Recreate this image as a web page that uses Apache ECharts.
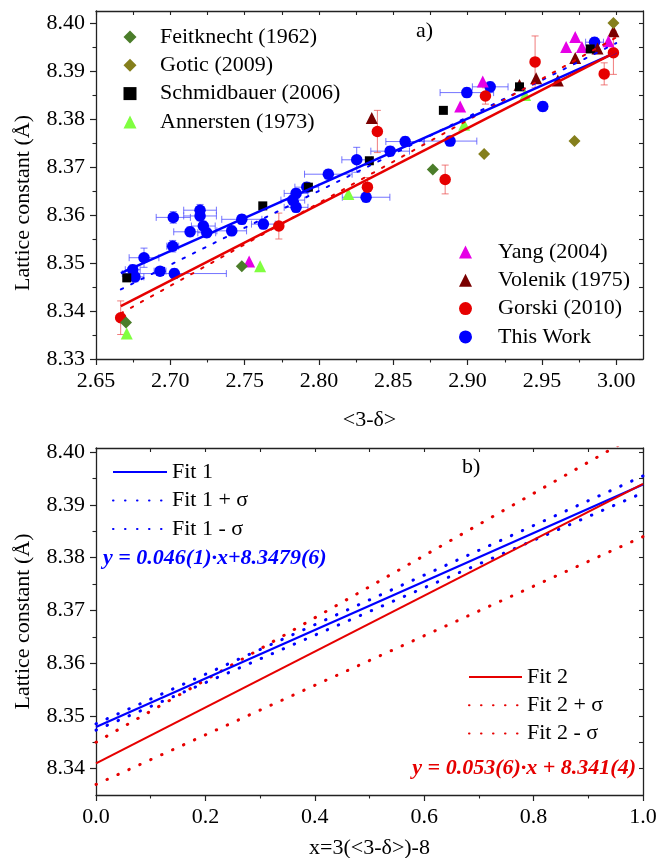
<!DOCTYPE html>
<html><head><meta charset="utf-8">
<script src="https://cdn.jsdelivr.net/npm/echarts@6/dist/echarts.min.js"></script>
<style>html,body{margin:0;padding:0;background:#fff;}#c{width:658px;height:858px;}</style>
</head><body><div id="c"></div>
<script>
const FONT = '"Liberation Serif","Times New Roman",serif';

// ---- tick labels ----
const topXTicks = [2.65, 2.70, 2.75, 2.80, 2.85, 2.90, 2.95, 3.00];
const topXMinor = [2.675, 2.725, 2.775, 2.825, 2.875, 2.925, 2.975];
const topYTicks = [8.33, 8.34, 8.35, 8.36, 8.37, 8.38, 8.39, 8.40];
const topYMinor = [8.335, 8.345, 8.355, 8.365, 8.375, 8.385, 8.395];
const botXTicks = [0.0, 0.2, 0.4, 0.6, 0.8, 1.0];
const botXMinor = [0.1, 0.3, 0.5, 0.7, 0.9];
const botYTicks = [8.34, 8.35, 8.36, 8.37, 8.38, 8.39, 8.40];
const botYMinor = [8.345, 8.355, 8.365, 8.375, 8.385, 8.395];

// ---- panel a) data: [<3-δ>, a] ----
const feitknecht = [[2.6702, 8.3376], [2.7481, 8.3493], [2.8766, 8.3695]];
const gotic = [[2.9111, 8.3727], [2.9719, 8.3754], [2.9981, 8.4000]];
const schmidbauer = [[2.6707, 8.3469], [2.7622, 8.3619], [2.7929, 8.3658], [2.8339, 8.3713],
  [2.8837, 8.3818], [2.9349, 8.3867], [2.9825, 8.3946]];
const annersten = [[2.6707, 8.3353], [2.7604, 8.3493], [2.8198, 8.3644], [2.8977, 8.3788], [2.9387, 8.3850]];
const yang = [[2.7530, 8.3503], [2.8950, 8.3826], [2.9102, 8.3878], [2.9663, 8.3950],
  [2.9724, 8.3971], [2.9769, 8.3950], [2.9948, 8.3962]];
const volenik = [[2.8355, 8.3802], [2.9349, 8.3871], [2.9461, 8.3885], [2.9607, 8.3880],
  [2.9724, 8.3927], [2.9874, 8.3947], [2.9981, 8.3983]];
// [x, y, xerr, yerr]
const gorski = [[2.6666, 8.3386, 0, 0.0035], [2.7730, 8.3577, 0, 0.0027], [2.8393, 8.3774, 0, 0.0044],
  [2.8326, 8.3658, 0, 0.0020], [2.8849, 8.3674, 0, 0.0030], [2.9120, 8.3848, 0, 0.0017],
  [2.9454, 8.3919, 0, 0.0054], [2.9919, 8.3894, 0, 0.0023], [2.9981, 8.3938, 0, 0.0045]];
const thisWork = [
  [2.7020, 8.3595, 0.0115, 0.0012], [2.7200, 8.3610, 0.011, 0.0012], [2.7200, 8.3598, 0.011, 0.0010],
  [2.7222, 8.3577, 0.008, 0.0010], [2.7245, 8.3563, 0.006, 0.0010], [2.7133, 8.3565, 0.011, 0.0010],
  [2.7016, 8.3535, 0.004, 0.0012], [2.6823, 8.3511, 0.010, 0.0020], [2.6747, 8.3486, 0.005, 0.0010],
  [2.6762, 8.3471, 0.006, 0.0010], [2.6931, 8.3483, 0.004, 0.0008], [2.7027, 8.3478, 0.035, 0.0010],
  [2.7413, 8.3567, 0.010, 0.0010], [2.7481, 8.3591, 0.0135, 0.0010], [2.7626, 8.3581, 0.008, 0.0010],
  [2.7824, 8.3631, 0.008, 0.0010], [2.7846, 8.3645, 0.008, 0.0010], [2.7846, 8.3616, 0.008, 0.0010],
  [2.7918, 8.3658, 0.008, 0.0010], [2.8063, 8.3685, 0.016, 0.0010], [2.8254, 8.3715, 0.010, 0.0026],
  [2.8479, 8.3733, 0.013, 0.0010], [2.8580, 8.3753, 0.013, 0.0010], [2.8317, 8.3637, 0.016, 0.0010],
  [2.8882, 8.3754, 0.018, 0.0010], [2.8995, 8.3855, 0.018, 0.0010], [2.9152, 8.3867, 0.012, 0.0010],
  [2.9506, 8.3826, 0.003, 0.0010], [2.9854, 8.3960, 0.006, 0.0010]];
// fit lines in panel a)
const fit1Top = [[2.6667, 8.3479], [3.0, 8.3939]];
const fit2Top = [[2.6667, 8.3410], [3.0, 8.3940]];
const fit1DotTop = [[2.6667, 8.3445], [3.0, 8.3958]];
const fit2DotTop = [[2.6667, 8.3395], [3.0, 8.3970]];

// ---- panel b) data: [x, a] ----
const fit1 = [[0, 8.3479], [1, 8.3939]];
const fit1Plus = [[0, 8.3485], [1, 8.3955]];
const fit1Minus = [[0, 8.3473], [1, 8.3923]];
const fit2 = [[0, 8.341], [1, 8.394]];
const fit2Plus = [[0, 8.345], [1, 8.404]];
const fit2Minus = [[0, 8.337], [1, 8.384]];

const BLUE = '#0000ff', RED = '#e60000';
const AX = '#222';
const lbl = {fontFamily: FONT, fontSize: 22, color: '#000'};

function errRender(color) {
  return function (params, api) {
    const x = api.value(0), y = api.value(1), ex = api.value(2), ey = api.value(3);
    const st = {stroke: color, lineWidth: 1};
    const ch = [], c = 3.5;
    if (ex > 0) {
      const a = api.coord([x - ex, y]), b = api.coord([x + ex, y]);
      ch.push({type: 'line', shape: {x1: a[0], y1: a[1], x2: b[0], y2: b[1]}, style: st});
      ch.push({type: 'line', shape: {x1: a[0], y1: a[1] - c, x2: a[0], y2: a[1] + c}, style: st});
      ch.push({type: 'line', shape: {x1: b[0], y1: b[1] - c, x2: b[0], y2: b[1] + c}, style: st});
    }
    if (ey > 0) {
      const a = api.coord([x, y - ey]), b = api.coord([x, y + ey]);
      ch.push({type: 'line', shape: {x1: a[0], y1: a[1], x2: b[0], y2: b[1]}, style: st});
      ch.push({type: 'line', shape: {x1: a[0] - c, y1: a[1], x2: a[0] + c, y2: a[1]}, style: st});
      ch.push({type: 'line', shape: {x1: b[0] - c, y1: b[1], x2: b[0] + c, y2: b[1]}, style: st});
    }
    return {type: 'group', children: ch};
  };
}

function mainAxis(grid, pos, min, max, ticks, fmt, name, nameGap, extra) {
  return Object.assign({
    type: 'value', gridIndex: grid, position: pos, min: min, max: max,
    axisLine: {show: true, onZero: false, lineStyle: {color: AX, width: 1.3}},
    axisTick: {show: true, inside: false, length: 6, customValues: ticks, lineStyle: {color: AX, width: 1.2}},
    axisLabel: {show: true, customValues: ticks, formatter: v => v.toFixed(fmt), margin: 11,
      fontFamily: FONT, fontSize: 22, color: '#000'},
    splitLine: {show: false},
    name: name, nameLocation: 'middle', nameGap: nameGap,
    nameTextStyle: {fontFamily: FONT, fontSize: 22, color: '#000'}
  }, extra || {});
}
function minorAxis(grid, pos, min, max, ticks) {
  return {
    type: 'value', gridIndex: grid, position: pos, min: min, max: max,
    axisLine: {show: false, onZero: false},
    axisTick: {show: true, inside: false, length: 3.5, customValues: ticks, lineStyle: {color: AX, width: 1.1}},
    axisLabel: {show: false}, splitLine: {show: false}
  };
}
function mirrorAxis(grid, pos, min, max, ticks) {
  return {
    type: 'value', gridIndex: grid, position: pos, min: min, max: max,
    axisLine: {show: true, onZero: false, lineStyle: {color: AX, width: 1.3}},
    axisTick: {show: true, inside: true, length: 4, customValues: ticks, lineStyle: {color: AX, width: 1.1}},
    axisLabel: {show: false}, splitLine: {show: false}
  };
}

const TXMIN = 2.65, TXMAX = 3.018, TYMIN = 8.33, TYMAX = 8.4025;
const BXMIN = 0, BXMAX = 1, BYMIN = 8.335, BYMAX = 8.4008;

function scat(name, data, symbol, size, color, z) {
  return {type: 'scatter', name: name, data: data, symbol: symbol, symbolSize: size,
    xAxisIndex: 0, yAxisIndex: 0, itemStyle: {color: color, opacity: 1}, z: z, silent: true};
}
function line(name, data, color, width, dash, xi, z) {
  return {type: 'line', name: name, data: data, xAxisIndex: xi, yAxisIndex: xi, symbol: 'none',
    showSymbol: false, silent: true, z: z, clip: true,
    itemStyle: {color: color},
    lineStyle: {color: color, width: width, type: dash || 'solid', cap: dash ? 'round' : 'butt'}};
}
const dotB = [0.5, 11.5];
const dotT = [2.5, 9];

const scatLegendText = pad => ({fontFamily: FONT, fontSize: 22, color: '#000', padding: [0, 0, 0, pad]});
const hiddenSym = {color: 'rgba(0,0,0,0)', borderWidth: 0, borderColor: 'rgba(0,0,0,0)', opacity: 0};
const option = {
  animation: false,
  backgroundColor: '#fff',
  grid: [
    {left: 96, top: 11, width: 547, height: 348, containLabel: false, outerBoundsMode: 'none'},
    {left: 96, top: 448, width: 547, height: 347, containLabel: false, outerBoundsMode: 'none'}
  ],
  xAxis: [
    mainAxis(0, 'bottom', TXMIN, TXMAX, topXTicks, 2, '<3-δ>', 50),
    minorAxis(0, 'bottom', TXMIN, TXMAX, topXMinor),
    mirrorAxis(0, 'top', TXMIN, TXMAX, topXTicks.concat(topXMinor)),
    mainAxis(1, 'bottom', BXMIN, BXMAX, botXTicks, 1, 'x=3(<3-δ>)-8', 42, {}),
    minorAxis(1, 'bottom', BXMIN, BXMAX, botXMinor),
    mirrorAxis(1, 'top', BXMIN, BXMAX, botXTicks.concat(botXMinor))
  ],
  yAxis: [
    mainAxis(0, 'left', TYMIN, TYMAX, topYTicks, 2, 'Lattice constant (Å)', 62,
      {nameRotate: 90, nameTextStyle: {fontFamily: FONT, fontSize: 22, color: '#000', padding: [0, 36, 0, 0]}}),
    minorAxis(0, 'left', TYMIN, TYMAX, topYMinor),
    mirrorAxis(0, 'right', TYMIN, TYMAX, topYTicks.concat(topYMinor)),
    mainAxis(1, 'left', BYMIN, BYMAX, botYTicks, 2, 'Lattice constant (Å)', 62, {nameRotate: 90}),
    minorAxis(1, 'left', BYMIN, BYMAX, botYMinor),
    mirrorAxis(1, 'right', BYMIN, BYMAX, botYTicks.concat(botYMinor))
  ],
  legend: [
    {orient: 'vertical', left: 118.5, top: 21, itemWidth: 13, itemHeight: 13, itemGap: 6.3,
      symbolKeepAspect: true, selectedMode: false, textStyle: scatLegendText(18.5),
      data: ['Feitknecht (1962)', 'Gotic (2009)', 'Schmidbauer (2006)', 'Annersten (1973)']},
    {orient: 'vertical', left: 454, top: 236, itemWidth: 13, itemHeight: 13, itemGap: 6.3,
      symbolKeepAspect: true, selectedMode: false, textStyle: scatLegendText(21),
      data: ['Yang (2004)', 'Volenik (1975)', 'Gorski (2010)', 'This Work']},
    {orient: 'vertical', left: 107, top: 456, itemWidth: 54, itemHeight: 14, itemGap: 6.5,
      selectedMode: false, textStyle: lbl, itemStyle: hiddenSym,
      data: ['Fit 1', 'Fit 1 + σ', 'Fit 1 - σ']},
    {orient: 'vertical', left: 463, top: 661, itemWidth: 53, itemHeight: 14, itemGap: 6.3,
      selectedMode: false, textStyle: lbl, itemStyle: hiddenSym,
      data: ['Fit 2', 'Fit 2 + σ', 'Fit 2 - σ']}
  ],
  graphic: [
    {type: 'text', left: 416, top: 20, style: {text: 'a)', font: '22px ' + FONT, fill: '#000'}},
    {type: 'text', left: 462, top: 456, style: {text: 'b)', font: '22px ' + FONT, fill: '#000'}},
    {type: 'text', left: 103, top: 547, style: {text: 'y = 0.046(1)·x+8.3479(6)',
      font: 'italic bold 22px ' + FONT, fill: BLUE}},
    {type: 'text', right: 22, top: 757, style: {text: 'y = 0.053(6)·x + 8.341(4)',
      font: 'italic bold 22px ' + FONT, fill: RED}}
  ],
  series: [
    {type: 'custom', name: '_errTW', xAxisIndex: 0, yAxisIndex: 0, data: thisWork, encode: {x: 0, y: 1},
      renderItem: errRender('rgba(70,70,255,0.75)'), z: 2, silent: true},
    {type: 'custom', name: '_errG', xAxisIndex: 0, yAxisIndex: 0, data: gorski, encode: {x: 0, y: 1},
      renderItem: errRender('rgba(235,80,80,0.75)'), z: 2, silent: true},
    scat('This Work', thisWork, 'circle', 11.5, BLUE, 3),
    scat('Gorski (2010)', gorski, 'circle', 11.5, RED, 4),
    scat('Volenik (1975)', volenik, 'triangle', 12, '#7a0000', 5),
    scat('Yang (2004)', yang, 'triangle', 12, '#e600e6', 5),
    scat('Annersten (1973)', annersten, 'triangle', 12, '#80ff40', 5),
    scat('Schmidbauer (2006)', schmidbauer, 'rect', 9, '#000', 6),
    scat('Gotic (2009)', gotic, 'diamond', 12, '#857f1c', 6),
    scat('Feitknecht (1962)', feitknecht, 'diamond', 12, '#4b7d2a', 6),
    line('_f1t', fit1Top, BLUE, 2.5, null, 0, 8),
    line('_f2t', fit2Top, RED, 2.5, null, 0, 8),
    line('_f1dt', fit1DotTop, BLUE, 2, dotT, 0, 7),
    line('_f2dt', fit2DotTop, RED, 2, dotT, 0, 7),
    line('Fit 1', fit1, BLUE, 2.2, null, 3, 8),
    line('Fit 1 + σ', fit1Plus, BLUE, 3, dotB, 3, 7),
    line('Fit 1 - σ', fit1Minus, BLUE, 3, dotB, 3, 7),
    line('Fit 2', fit2, RED, 2.2, null, 3, 8),
    line('Fit 2 + σ', fit2Plus, RED, 3, dotB, 3, 7),
    line('Fit 2 - σ', fit2Minus, RED, 3, dotB, 3, 7)
  ]
};
const chart = echarts.init(document.getElementById('c'), null, {renderer: 'canvas'});
chart.setOption(option);
</script></body></html>
